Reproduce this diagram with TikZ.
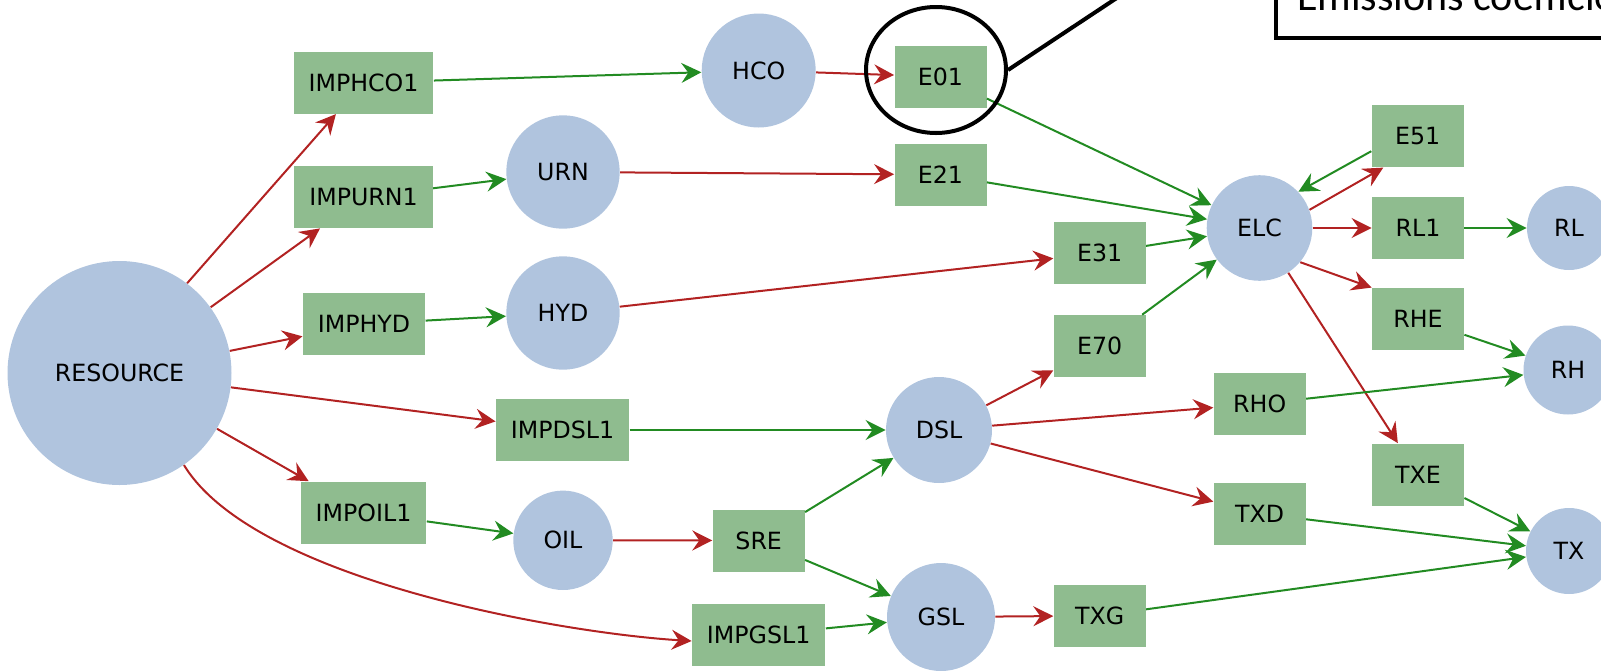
\documentclass[tikz,border=0pt]{standalone}
\usepackage{fontspec}
\setmainfont{DejaVu Sans}
\newfontfamily\notefont{Carlito}
\usetikzlibrary{arrows.meta,%
                shapes.geometric}
\definecolor{commblue}{HTML}{B0C4DE}
\definecolor{procgreen}{HTML}{8FBC8F}
\definecolor{inred}{HTML}{B22222}
\definecolor{outgreen}{HTML}{228B22}
\tikzset{
  Comm/.style={circle,fill=commblue,inner sep=0pt},
  Proc/.style={rectangle,fill=procgreen,minimum width=46pt,minimum height=31pt,inner xsep=7.5pt},
  inflow/.style={draw=inred,line width=1pt,-{Stealth[length=10pt,width=10pt,inset=3.5pt]}},
  outflow/.style={draw=outgreen,line width=1pt,-{Stealth[length=10pt,width=10pt,inset=3.5pt]}}
}

\begin{document}
\begin{tikzpicture}[x=0.5pt,y=-0.5pt,every node/.style={font=\fontsize{11.85}{14}\selectfont}]
\useasboundingbox (0,0) rectangle (1601,670);
\clip (0,0) rectangle (1601,670);
\node[Comm,minimum size=112pt] (RESOURCE) at (119.5,373) {RESOURCE};
\node[Proc] (IMPHCO1) at (363.5,82.7) {IMPHCO1};
\node[Proc] (IMPURN1) at (363.5,197) {IMPURN1};
\node[Proc] (IMPHYD) at (364,324) {IMPHYD};
\node[Proc] (IMPDSL1) at (562.6,430) {IMPDSL1};
\node[Proc] (IMPOIL1) at (363.5,512.6) {IMPOIL1};
\node[Proc] (IMPGSL1) at (758.7,635) {IMPGSL1};
\node[Comm,minimum size=57pt] (HCO) at (758.7,70.5) {HCO};
\node[Comm,minimum size=56.7pt] (URN) at (563,172) {URN};
\node[Comm,minimum size=56.7pt] (HYD) at (563,313) {HYD};
\node[Comm,minimum size=49.7pt] (OIL) at (563,540.3) {OIL};
\node[Proc] (SRE) at (758.7,540.5) {SRE};
\node[Comm,minimum size=53pt] (DSL) at (939,430) {DSL};
\node[Comm,minimum size=54pt] (GSL) at (941,617) {GSL};
\node[Proc] (E01) at (940.5,76.6) {E01};
\node[Proc] (E21) at (940.5,174.6) {E21};
\node[Proc] (E31) at (1099.7,253.2) {E31};
\node[Proc] (E70) at (1099.7,346.1) {E70};
\node[Proc] (TXG) at (1099.7,615.7) {TXG};
\node[Comm,minimum size=52.8pt] (ELC) at (1259.5,228) {ELC};
\node[Proc] (E51) at (1417.7,136.2) {E51};
\node[Proc] (RL1) at (1418,228) {RL1};
\node[Proc] (RHE) at (1418,319) {RHE};
\node[Proc] (TXE) at (1418,474.5) {TXE};
\node[Proc] (RHO) at (1259.7,403.8) {RHO};
\node[Proc] (TXD) at (1259.7,513.7) {TXD};
\node[Comm,minimum size=42pt] (RL) at (1569,228) {RL};
\node[Comm,minimum size=44.5pt] (RH) at (1568,370) {RH};
\node[Comm,minimum size=43pt] (TX) at (1569,551) {TX};

\draw[inflow] (RESOURCE.53) -- (IMPHCO1);
\draw[inflow] (RESOURCE) -- (IMPURN1);
\draw[inflow] (RESOURCE) -- (IMPHYD);
\draw[inflow] (RESOURCE) -- (IMPDSL1);
\draw[inflow] (RESOURCE) -- (IMPOIL1);
\draw[inflow] (RESOURCE.-55) .. controls +(70,115) and +(-130,-8) .. ([yshift=-3pt]IMPGSL1.west);
\draw[inflow] (HCO) -- (E01);
\draw[inflow] (URN) -- (E21);
\draw[inflow] (HYD) -- (E31);
\draw[inflow] (OIL) -- (SRE);
\draw[inflow] (DSL) -- (E70);
\draw[inflow] (DSL) -- (RHO);
\draw[inflow] (DSL) -- (TXD);
\draw[inflow] (GSL) -- (TXG);
\draw[inflow] (ELC.20) -- ([xshift=6pt]E51.south west);
\draw[inflow] (ELC) -- (RL1);
\draw[inflow] (ELC.-40) -- (RHE.north west);
\draw[inflow] (ELC) -- (TXE);

\draw[outflow] (IMPHCO1) -- (HCO);
\draw[outflow] (IMPURN1) -- (URN);
\draw[outflow] (IMPHYD) -- (HYD);
\draw[outflow] (IMPDSL1) -- (DSL);
\draw[outflow] (IMPOIL1) -- (OIL);
\draw[outflow] (IMPGSL1) -- (GSL);
\draw[outflow] (SRE) -- (DSL);
\draw[outflow] (SRE) -- (GSL);
\draw[outflow] (E01) -- (ELC);
\draw[outflow] (E21) -- (ELC);
\draw[outflow] (E31) -- (ELC);
\draw[outflow] (E70) -- (ELC);
\draw[outflow] ([yshift=-7.5pt]E51.west) -- (ELC.43);
\draw[outflow] (RL1) -- (RL);
\draw[outflow] (RHE) -- (RH);
\draw[outflow] (RHO) -- (RH);
\draw[outflow] (TXE) -- (TX);
\draw[outflow] (TXD) -- (TX);
\draw[outflow] (TXG) -- (TX);

\node[ellipse,draw,line width=2pt,minimum width=70pt,minimum height=63pt] (ring) at (936,70) {};
\node[draw,line width=2.2pt,anchor=south west,inner xsep=10.5pt,inner ysep=13.5pt,
      font=\notefont\fontsize{21}{25}\selectfont] (note) at (1274,40) {Emissions coefficients};
\coordinate (tip) at (1150,-24);
\draw[line width=2pt] (ring.east) -- (tip);
\end{tikzpicture}
\end{document}
